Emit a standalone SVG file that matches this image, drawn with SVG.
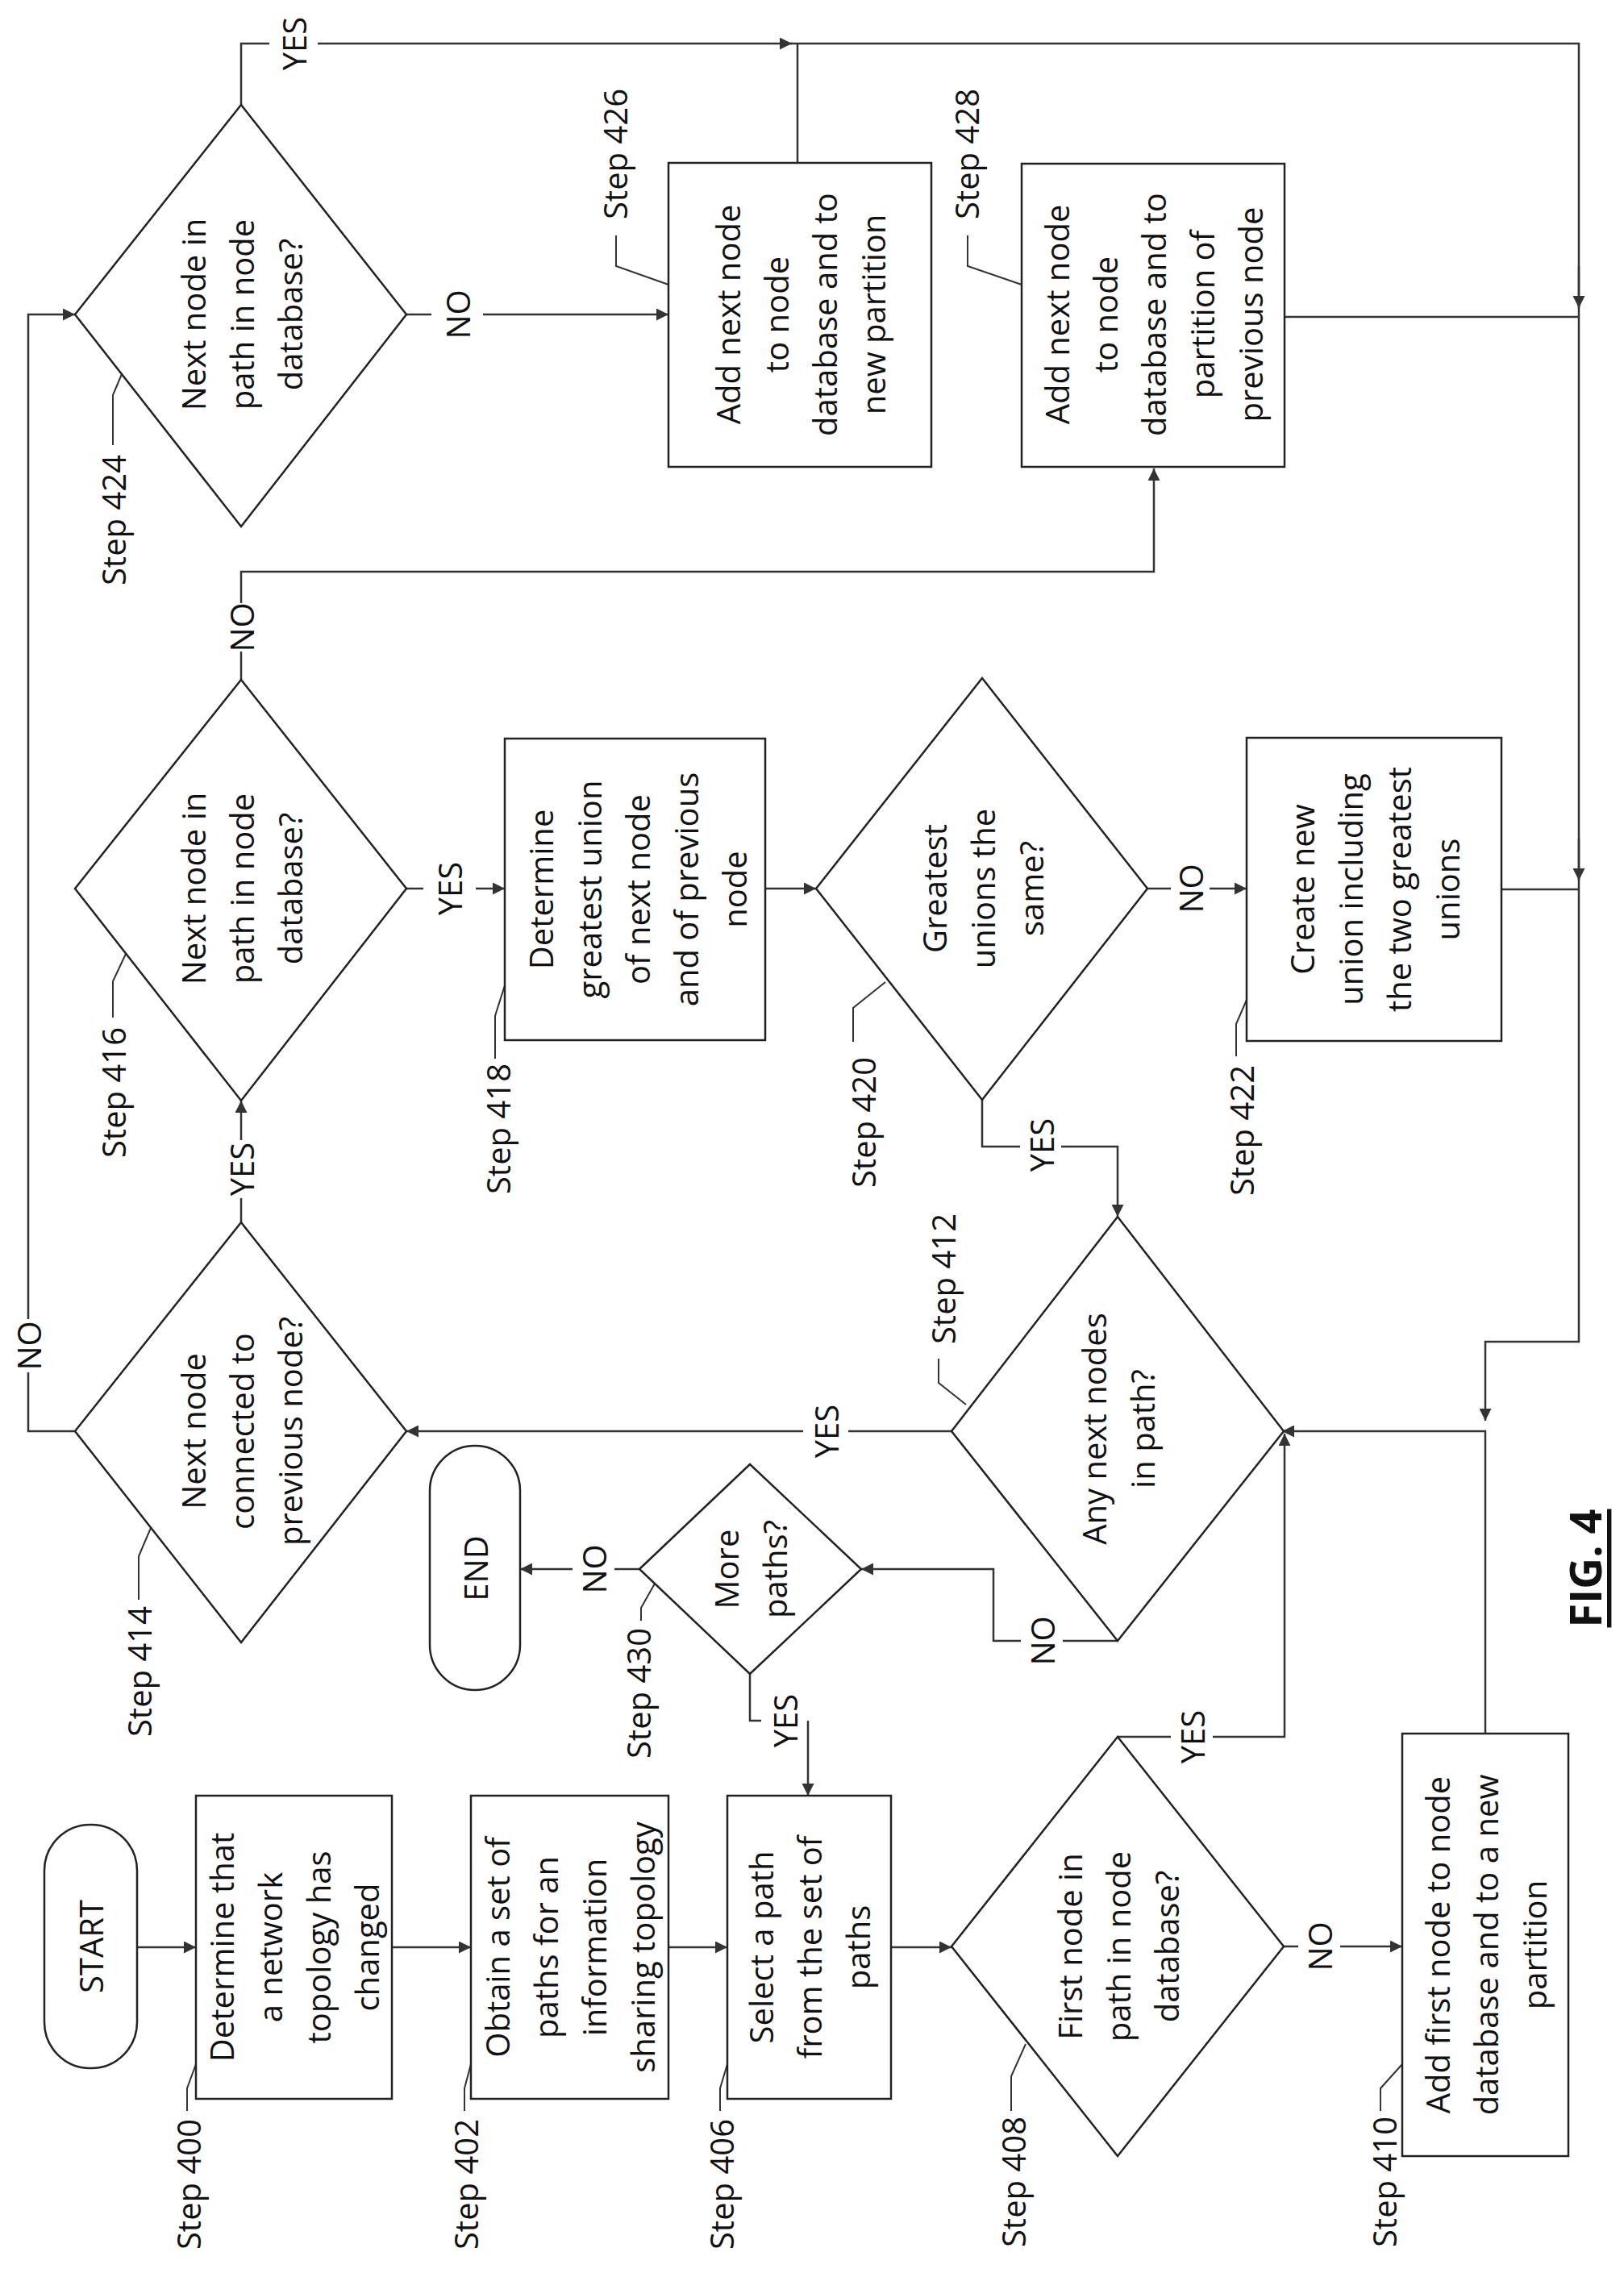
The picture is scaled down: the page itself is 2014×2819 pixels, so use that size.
<svg xmlns="http://www.w3.org/2000/svg" width="2014" height="2819" viewBox="0 0 2014 2819">
<style>
.s{fill:#fff;stroke:#222;stroke-width:2.5}
.c{fill:none;stroke:#333;stroke-width:2.5}
.a{fill:none;stroke:#333;stroke-width:2.5;marker-end:url(#ar)}
.l{fill:none;stroke:#333;stroke-width:2}
text{font-family:"Open Sans","Noto Sans",sans-serif;font-size:40px;fill:#111;text-anchor:middle;dominant-baseline:central}
</style>
<defs>
<marker id="ar" viewBox="0 0 10 10" refX="10" refY="5" markerWidth="6" markerHeight="6" orient="auto" markerUnits="strokeWidth"><path d="M0,0 L10,5 L0,10 z" fill="#333"/></marker>
</defs>
<rect width="2014" height="2819" fill="#fff"/>
<g id="connectors">
<path class="a" d="M170,2415 H243"/>
<path class="a" d="M486,2415 H584"/>
<path class="a" d="M829,2415 H902"/>
<path class="a" d="M1105,2415 H1180"/>
<path class="c" d="M1592,2414 H1610"/><path class="a" d="M1662,2414 H1739"/>
<path class="c" d="M1386,2154 H1452"/><path class="a" d="M1504,2154 H1593 V1778"/>
<path class="a" d="M1842,2150 V1775 H1590"/>
<path class="c" d="M980,54 H1958 V1664 H1842 V1700"/><path class="a" d="M1842,1700 V1762"/>
<path class="a" d="M1958,330 V382"/><path class="a" d="M1958,1040 V1092"/>
<path class="c" d="M1386,2035 H1318"/><path class="a" d="M1266,2035 H1232 V1946 H1068"/>
<path class="c" d="M793,1946 H762"/><path class="a" d="M710,1946 H645"/>
<path class="c" d="M930,2076 V2134 H944"/><path class="a" d="M1002,2134 V2227"/>
<path class="c" d="M1180,1775 H1052"/><path class="a" d="M996,1775 H504"/>
<path class="c" d="M299,1516 V1486"/><path class="a" d="M299,1414 V1365"/>
<path class="c" d="M93,1775 H35 V1702"/><path class="a" d="M35,1636 V390 H93"/>
<path class="c" d="M504,1102 H525"/><path class="a" d="M590,1102 H626"/>
<path class="a" d="M949,1102 H1012"/>
<path class="c" d="M1423,1102 H1452"/><path class="a" d="M1500,1102 H1546"/>
<path class="c" d="M1218,1364 V1422 H1265"/><path class="a" d="M1316,1422 H1386 V1509"/>
<path class="c" d="M1862,1103 H1958"/>
<path class="c" d="M299,843 V808"/><path class="a" d="M299,748 V709 H1431 V581"/>
<path class="c" d="M299,130 V54 H334"/><path class="a" d="M394,54 H982"/>
<path class="c" d="M989,202 V54"/>
<path class="c" d="M504,390 H535"/><path class="a" d="M599,390 H829"/>
<path class="c" d="M1593,393 H1958"/>
<path class="c" d="M1958,1664 V1664"/>
</g>
<g id="connector-labels">
<text transform="translate(1636,2414) rotate(-90)">NO</text>
<text transform="translate(1478,2154) rotate(-90)">YES</text>
<text transform="translate(1292,2035) rotate(-90)">NO</text>
<text transform="translate(736,1946) rotate(-90)">NO</text>
<text transform="translate(973,2134) rotate(-90)">YES</text>
<text transform="translate(1024,1775) rotate(-90)">YES</text>
<text transform="translate(299,1450) rotate(-90)">YES</text>
<text transform="translate(35,1669) rotate(-90)">NO</text>
<text transform="translate(557,1102) rotate(-90)">YES</text>
<text transform="translate(1476,1102) rotate(-90)">NO</text>
<text transform="translate(1291,1420) rotate(-90)">YES</text>
<text transform="translate(299,778) rotate(-90)">NO</text>
<text transform="translate(364,54) rotate(-90)">YES</text>
<text transform="translate(567,390) rotate(-90)">NO</text>
</g>
<g id="leaders">
<path class="l" d="M232,2618 V2590 L243,2560"/>
<path class="l" d="M576,2618 V2590 L584,2560"/>
<path class="l" d="M893,2618 V2590 L902,2560"/>
<path class="l" d="M1254,2618 V2575 L1272,2535"/>
<path class="l" d="M1712,2618 V2590 L1739,2560"/>
<path class="l" d="M172,1984 V1930 L187,1895"/>
<path class="l" d="M140,1262 V1217 L156,1183"/>
<path class="l" d="M614,1313 V1260 L626,1222"/>
<path class="l" d="M1058,1292 V1250 L1098,1218"/>
<path class="l" d="M1533,1310 V1270 L1546,1240"/>
<path class="l" d="M1164,1685 V1715 L1198,1742"/>
<path class="l" d="M140,552 V490 L151,464"/>
<path class="l" d="M764,292 V330 L829,353"/>
<path class="l" d="M1200,292 V330 L1267,353"/>
<path class="l" d="M795,2010 V1994 L812,1964"/>
</g>
<g id="start"><rect class="s" x="55" y="2263" width="115" height="302" rx="57"/><text transform="translate(112,2414) rotate(-90)">START</text><text transform="translate(233,2709) rotate(-90)" style="display:none"></text></g>
<g id="step400"><rect class="s" x="243" y="2227" width="243" height="376"/>
<text transform="translate(364,2415) rotate(-90)"><tspan x="0" y="-90">Determine that</tspan><tspan x="0" y="-30">a network</tspan><tspan x="0" y="30">topology has</tspan><tspan x="0" y="90">changed</tspan></text>
<text transform="translate(233,2709) rotate(-90)">Step 400</text></g>
<g id="step402"><rect class="s" x="584" y="2227" width="245" height="376"/>
<text transform="translate(706,2415) rotate(-90)"><tspan x="0" y="-90">Obtain a set of</tspan><tspan x="0" y="-30">paths for an</tspan><tspan x="0" y="30">information</tspan><tspan x="0" y="90">sharing topology</tspan></text>
<text transform="translate(577,2709) rotate(-90)">Step 402</text></g>
<g id="step406"><rect class="s" x="902" y="2227" width="203" height="376"/>
<text transform="translate(1003,2415) rotate(-90)"><tspan x="0" y="-60">Select a path</tspan><tspan x="0" y="0">from the set of</tspan><tspan x="0" y="60">paths</tspan></text>
<text transform="translate(894,2709) rotate(-90)">Step 406</text></g>
<g id="step408"><polygon class="s" points="1180,2414 1386,2154 1592,2414 1386,2674"/>
<text transform="translate(1386,2414) rotate(-90)"><tspan x="0" y="-60">First node in</tspan><tspan x="0" y="0">path in node</tspan><tspan x="0" y="60">database?</tspan></text>
<text transform="translate(1256,2706) rotate(-90)">Step 408</text></g>
<g id="step410"><rect class="s" x="1739" y="2150" width="206" height="524"/>
<text transform="translate(1842,2412) rotate(-90)"><tspan x="0" y="-60">Add first node to node</tspan><tspan x="0" y="0">database and to a new</tspan><tspan x="0" y="60">partition</tspan></text>
<text transform="translate(1716,2706) rotate(-90)">Step 410</text></g>
<g id="step412"><polygon class="s" points="1180,1775 1386,1509 1592,1775 1386,2035"/>
<text transform="translate(1386,1772) rotate(-90)"><tspan x="0" y="-30">Any next nodes</tspan><tspan x="0" y="30">in path?</tspan></text>
<text transform="translate(1169,1586) rotate(-90)">Step 412</text></g>
<g id="step414"><polygon class="s" points="93,1775 299,1516 504,1775 299,2037"/>
<text transform="translate(299,1775) rotate(-90)"><tspan x="0" y="-60">Next node</tspan><tspan x="0" y="0">connected to</tspan><tspan x="0" y="60">previous node?</tspan></text>
<text transform="translate(172,2073) rotate(-90)">Step 414</text></g>
<g id="step416"><polygon class="s" points="93,1102 299,843 504,1102 299,1365"/>
<text transform="translate(299,1102) rotate(-90)"><tspan x="0" y="-60">Next node in</tspan><tspan x="0" y="0">path in node</tspan><tspan x="0" y="60">database?</tspan></text>
<text transform="translate(140,1355) rotate(-90)">Step 416</text></g>
<g id="step418"><rect class="s" x="626" y="916" width="323" height="374"/>
<text transform="translate(790,1103) rotate(-90)"><tspan x="0" y="-120">Determine</tspan><tspan x="0" y="-60">greatest union</tspan><tspan x="0" y="0">of next node</tspan><tspan x="0" y="60">and of previous</tspan><tspan x="0" y="120">node</tspan></text>
<text transform="translate(617,1400) rotate(-90)">Step 418</text></g>
<g id="step420"><polygon class="s" points="1012,1102 1218,841 1423,1102 1218,1364"/>
<text transform="translate(1218,1102) rotate(-90)"><tspan x="0" y="-60">Greatest</tspan><tspan x="0" y="0">unions the</tspan><tspan x="0" y="60">same?</tspan></text>
<text transform="translate(1070,1392) rotate(-90)">Step 420</text></g>
<g id="step422"><rect class="s" x="1546" y="915" width="316" height="376"/>
<text transform="translate(1704,1103) rotate(-90)"><tspan x="0" y="-90">Create new</tspan><tspan x="0" y="-30">union including</tspan><tspan x="0" y="30">the two greatest</tspan><tspan x="0" y="90">unions</tspan></text>
<text transform="translate(1539,1402) rotate(-90)">Step 422</text></g>
<g id="step424"><polygon class="s" points="93,390 299,130 504,390 299,653"/>
<text transform="translate(299,390) rotate(-90)"><tspan x="0" y="-60">Next node in</tspan><tspan x="0" y="0">path in node</tspan><tspan x="0" y="60">database?</tspan></text>
<text transform="translate(140,645) rotate(-90)">Step 424</text></g>
<g id="step426"><rect class="s" x="829" y="202" width="326" height="377"/>
<text transform="translate(992,390) rotate(-90)"><tspan x="0" y="-90">Add next node</tspan><tspan x="0" y="-30">to node</tspan><tspan x="0" y="30">database and to</tspan><tspan x="0" y="90">new partition</tspan></text>
<text transform="translate(762,191) rotate(-90)">Step 426</text></g>
<g id="step428"><rect class="s" x="1267" y="203" width="326" height="376"/>
<text transform="translate(1430,390) rotate(-90)"><tspan x="0" y="-120">Add next node</tspan><tspan x="0" y="-60">to node</tspan><tspan x="0" y="0">database and to</tspan><tspan x="0" y="60">partition of</tspan><tspan x="0" y="120">previous node</tspan></text>
<text transform="translate(1198,191) rotate(-90)">Step 428</text></g>
<g id="step430"><polygon class="s" points="793,1946 930,1816 1068,1946 930,2076"/>
<text transform="translate(930,1946) rotate(-90)"><tspan x="0" y="-30">More</tspan><tspan x="0" y="30">paths?</tspan></text>
<text transform="translate(791,2100) rotate(-90)">Step 430</text></g>
<g id="end"><rect class="s" x="533" y="1793" width="112" height="303" rx="56"/><text transform="translate(589,1945) rotate(-90)">END</text></g>
<g id="fig"><text transform="translate(1965,1945) rotate(-90)" style="font-size:54px;font-weight:bold;text-decoration:underline">FIG. 4</text></g>
</svg>
